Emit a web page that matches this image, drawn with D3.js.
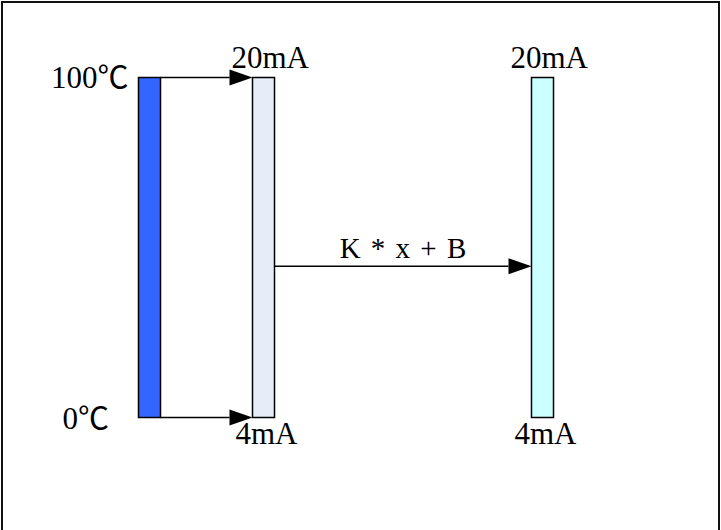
<!DOCTYPE html>
<html>
<head>
<meta charset="utf-8">
<script src="https://cdn.jsdelivr.net/npm/d3@7"></script>
<style>
  body { margin: 0; background: #fff; }
  text { font-family: "Liberation Serif", "Noto Sans CJK SC", serif; fill: #000; }
</style>
</head>
<body>
<script>
// data
var stages = ["temperature", "current", "output"];
var stageColors = ["#3366ff", "#e6ecf8", "#ccffff"];
var topLabels = ["100℃", "20mA", "20mA"];
var bottomLabels = ["0℃", "4mA", "4mA"];
var range = [0, 100];
var formulaLabel = "K * x + B";
var formulaLevel = 44.5;

var width = 721, height = 530;

var svg = d3.select("body").append("svg")
    .attr("width", width)
    .attr("height", height);

// frame (no bottom edge visible)
svg.append("rect")
    .attr("x", 2).attr("y", 2)
    .attr("width", width - 4).attr("height", height + 20)
    .attr("fill", "none")
    .attr("stroke", "#111")
    .attr("stroke-width", 2);

// scales
var x = d3.scaleOrdinal()
    .domain(stages)
    .range([138.5, 252.5, 531.5]);

var barW = 22;

var y = d3.scaleLinear()
    .domain(range)
    .range([417.5, 77.5]);

// bars
svg.selectAll(".bar")
    .data(stages)
    .enter().append("rect")
    .attr("class", "bar")
    .attr("x", function(d) { return x(d); })
    .attr("y", y(range[1]))
    .attr("width", barW)
    .attr("height", y(range[0]) - y(range[1]))
    .attr("fill", function(d, i) { return stageColors[i]; })
    .attr("stroke", "#000")
    .attr("stroke-width", 1.5);

function arrow(x1, x2, yy) {
    var head = 23, half = 8;
    svg.append("line")
        .attr("x1", x1).attr("x2", x2 - head)
        .attr("y1", yy).attr("y2", yy)
        .attr("stroke", "#000").attr("stroke-width", 1.5);
    svg.append("path")
        .attr("d", "M" + (x2 - head) + "," + (yy - half) + "L" + x2 + "," + yy + "L" + (x2 - head) + "," + (yy + half) + "Z")
        .attr("fill", "#000");
}

// sensor range -> current range
range.forEach(function(v) {
    arrow(x(stages[0]) + barW, x(stages[1]), y(v));
});

// current -> output
arrow(x(stages[1]) + barW, x(stages[2]), y(formulaLevel));

svg.append("text")
    .attr("x", (x(stages[1]) + barW + x(stages[2])) / 2)
    .attr("y", y(formulaLevel) - 8)
    .attr("text-anchor", "middle")
    .attr("font-size", "29px")
    .attr("word-spacing", "3px")
    .text(formulaLabel);

// labels
svg.selectAll(".top-label")
    .data(stages)
    .enter().append("text")
    .attr("class", "top-label")
    .attr("font-size", "31px")
    .attr("x", function(d, i) { return i === 0 ? x(d) - 10 : x(d) - 21; })
    .attr("y", function(d, i) { return i === 0 ? y(range[1]) + 10 : y(range[1]) - 10; })
    .attr("text-anchor", function(d, i) { return i === 0 ? "end" : "start"; })
    .text(function(d, i) { return topLabels[i]; });

svg.selectAll(".bottom-label")
    .data(stages)
    .enter().append("text")
    .attr("class", "bottom-label")
    .attr("font-size", "31px")
    .attr("x", function(d, i) { return i === 0 ? x(d) - 76 : x(d) - 17; })
    .attr("y", function(d, i) { return i === 0 ? y(range[0]) + 11 : y(range[0]) + 26; })
    .attr("text-anchor", "start")
    .text(function(d, i) { return bottomLabels[i]; });
</script>
</body>
</html>
